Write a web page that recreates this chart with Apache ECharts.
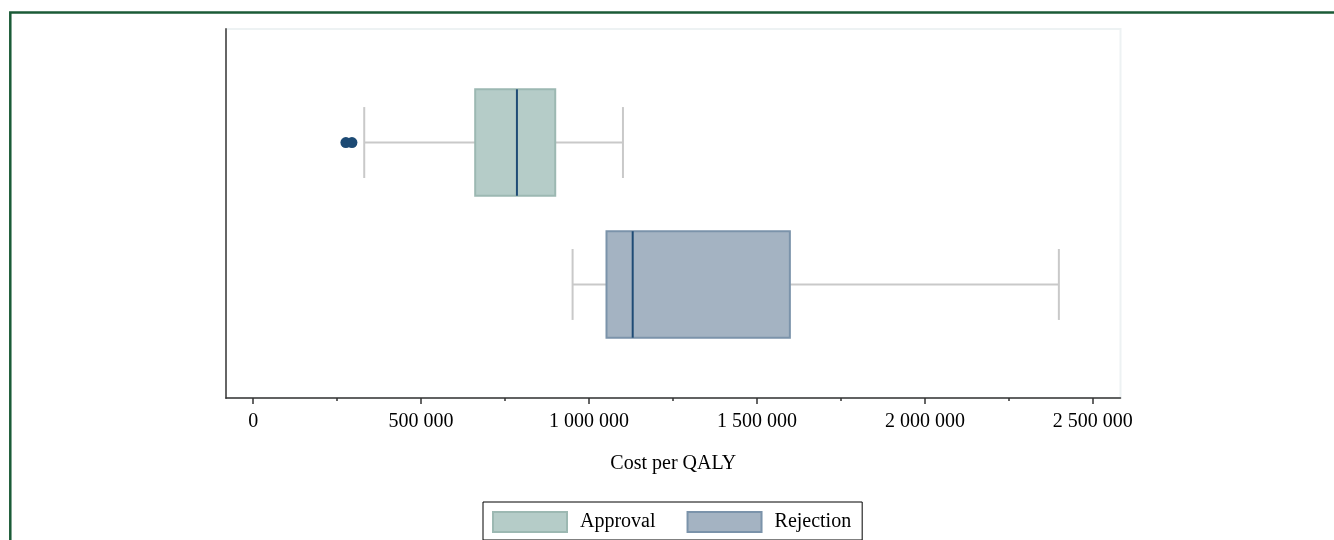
<!DOCTYPE html>
<html>
<head>
<meta charset="utf-8">
<script src="https://cdn.jsdelivr.net/npm/echarts@6/dist/echarts.min.js"></script>
<style>
html,body{margin:0;padding:0;background:#fff;}
#chart{width:1334px;height:540px;}
</style>
</head>
<body>
<div id="chart"></div>
<script>
// Data
const categories = ['Approval', 'Rejection'];
// [min whisker, Q1, median, Q3, max whisker]
const approvalBox = [330600, 661000, 785300, 899300, 1101000];
const rejectionBox = [951000, 1052000, 1130000, 1598000, 2399000];
const approvalOutliers = [276000, 294000];
const majorTicks = [0, 500000, 1000000, 1500000, 2000000, 2500000];
const minorTicks = [250000, 750000, 1250000, 1750000, 2250000];

const FONT = 'Liberation Serif';
const colors = {
  Approval: { fill: '#b5ccc8', border: '#9cb8b2' },
  Rejection: { fill: '#a4b3c2', border: '#7b93aa' }
};

function fmt(v) {
  return String(v).replace(/\B(?=(\d{3})+(?!\d))/g, ' ');
}

function renderBox(params, api) {
  const y = api.value(0);
  const p = [1, 2, 3, 4, 5].map(i => api.coord([api.value(i), y]));
  const cy = p[0][1];
  const half = api.size([0, 0.75])[1] / 2;
  const cap = api.size([0, 0.5])[1] / 2;
  const name = categories[y];
  const c = colors[name];
  const wStyle = { stroke: '#c9c9c9', lineWidth: 2 };
  return {
    type: 'group',
    children: [
      { type: 'line', shape: { x1: p[0][0], y1: cy, x2: p[1][0], y2: cy }, style: wStyle },
      { type: 'line', shape: { x1: p[3][0], y1: cy, x2: p[4][0], y2: cy }, style: wStyle },
      { type: 'line', shape: { x1: p[0][0], y1: cy - cap, x2: p[0][0], y2: cy + cap }, style: wStyle },
      { type: 'line', shape: { x1: p[4][0], y1: cy - cap, x2: p[4][0], y2: cy + cap }, style: wStyle },
      { type: 'rect', shape: { x: p[1][0], y: cy - half, width: p[3][0] - p[1][0], height: 2 * half },
        style: { fill: c.fill, stroke: c.border, lineWidth: 2 } },
      { type: 'line', shape: { x1: p[2][0], y1: cy - half, x2: p[2][0], y2: cy + half },
        style: { stroke: '#1f4b75', lineWidth: 2 } }
    ]
  };
}

const chart = echarts.init(document.getElementById('chart'));
const option = {
  animation: false,
  backgroundColor: '#ffffff',
  textStyle: { fontFamily: FONT },
  graphic: [{
    type: 'rect', silent: true, z: 100,
    shape: { x: 10.3, y: 12.5, width: 1500, height: 700 },
    style: { fill: 'none', stroke: '#1b5b37', lineWidth: 2.5 }
  }],
  grid: {
    left: 226, right: 213.5, top: 29, bottom: 142,
    show: true, borderColor: '#edf2f3', borderWidth: 2, backgroundColor: 'transparent'
  },
  legend: {
    data: [
      { name: 'Approval', itemStyle: { color: colors.Approval.fill, borderColor: colors.Approval.border, borderWidth: 2 } },
      { name: 'Rejection', itemStyle: { color: colors.Rejection.fill, borderColor: colors.Rejection.border, borderWidth: 2 } }
    ],
    left: 483, top: 502,
    orient: 'horizontal',
    icon: 'rect',
    itemWidth: 74, itemHeight: 20,
    itemGap: 31,
    padding: [9, 11, 7, 9],
    borderColor: '#000', borderWidth: 1,
    textStyle: { fontFamily: FONT, fontSize: 20, color: '#000', padding: [4, 0, 0, 8] },
    selectedMode: false
  },
  xAxis: [{
    type: 'value',
    min: -81000, max: 2582500,
    position: 'bottom',
    name: 'Cost per QALY',
    nameLocation: 'middle',
    nameGap: 56,
    nameTextStyle: { fontFamily: FONT, fontSize: 20, color: '#000' },
    axisLine: { show: true, onZero: false, lineStyle: { color: '#333', width: 1.5 } },
    axisTick: { show: true, length: 6, customValues: majorTicks, lineStyle: { color: '#333', width: 1.5 } },
    axisLabel: { customValues: majorTicks, formatter: fmt, fontFamily: FONT, fontSize: 20, color: '#000', margin: 14 },
    splitLine: { show: false }
  }, {
    type: 'value',
    min: -81000, max: 2582500,
    position: 'bottom',
    offset: 0,
    axisLine: { show: false, onZero: false },
    axisTick: { show: true, length: 3, customValues: minorTicks, lineStyle: { color: '#333', width: 1.5 } },
    axisLabel: { show: false },
    splitLine: { show: false }
  }],
  yAxis: {
    type: 'value',
    min: -0.8, max: 1.8,
    inverse: true,
    axisLine: { show: true, onZero: false, lineStyle: { color: '#666', width: 2 } },
    axisTick: { show: false },
    axisLabel: { show: false },
    splitLine: { show: false }
  },
  series: [
    {
      name: 'Approval', type: 'custom',
      renderItem: renderBox,
      itemStyle: { color: colors.Approval.fill },
      encode: { x: [1, 2, 3, 4, 5], y: 0 },
      data: [[categories.indexOf('Approval')].concat(approvalBox)]
    },
    {
      name: 'Rejection', type: 'custom',
      renderItem: renderBox,
      itemStyle: { color: colors.Rejection.fill },
      encode: { x: [1, 2, 3, 4, 5], y: 0 },
      data: [[categories.indexOf('Rejection')].concat(rejectionBox)]
    },
    {
      name: 'Outliers', type: 'scatter',
      symbol: 'circle', symbolSize: 11,
      itemStyle: { color: '#1c4a74', opacity: 1 },
      data: approvalOutliers.map(v => [v, categories.indexOf('Approval')])
    }
  ]
};
chart.setOption(option);
</script>
</body>
</html>
